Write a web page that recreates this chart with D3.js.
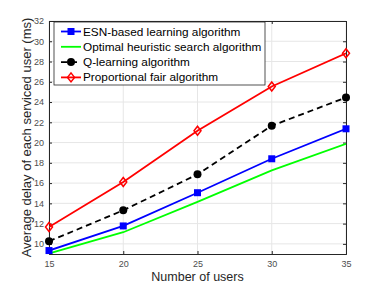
<!DOCTYPE html>
<meta charset="utf-8">
<html>
<head>
<style>
  body { margin: 0; background: #fff; }
  svg text { font-family: 'Liberation Sans', Arial, sans-serif; }
</style>
</head>
<body>
<div id="chart"></div>
<script src="https://cdn.jsdelivr.net/npm/d3@7"></script>
<script>
// chart values
var users = [15, 20, 25, 30, 35];
var esn = [9.34, 11.77, 15.05, 18.4, 21.36];
var optimal = [9.05, 11.15, 14.14, 17.25, 19.88];
var qlearn = [10.26, 13.31, 16.86, 21.66, 24.45];
var propfair = [11.67, 16.11, 21.16, 25.53, 28.82];
var yTicks = [10, 12, 14, 16, 18, 20, 22, 24, 26, 28, 30, 32];
var seriesNames = ["ESN-based learning algorithm", "Optimal heuristic search algorithm",
                   "Q-learning algorithm", "Proportional fair algorithm"];

var width = 382, height = 286;
var pLeft = 49, pRight = 346, pTop = 21, pBottom = 254;

var svg = d3.select("#chart").append("svg")
    .attr("width", width).attr("height", height);

var x = d3.scaleLinear().domain([15, 35]).range([pLeft, pRight]);
var y = d3.scaleLinear().domain([9, 32]).range([pBottom, pTop]);

// grid
svg.selectAll(".gx").data(users).enter().append("line")
    .attr("x1", function(d) { return x(d); }).attr("x2", function(d) { return x(d); })
    .attr("y1", pTop).attr("y2", pBottom)
    .style("stroke", "#e6e6e6").style("stroke-width", 1);
svg.selectAll(".gy").data(yTicks).enter().append("line")
    .attr("y1", function(d) { return y(d); }).attr("y2", function(d) { return y(d); })
    .attr("x1", pLeft).attr("x2", pRight)
    .style("stroke", "#e6e6e6").style("stroke-width", 1);

// axes (ticks inward, MATLAB style)
svg.append("g").attr("transform", "translate(0," + pBottom + ")")
    .call(d3.axisBottom(x).tickValues(users).tickSize(-3).tickPadding(7));
svg.append("g").attr("transform", "translate(" + pLeft + ",0)")
    .call(d3.axisLeft(y).tickValues(yTicks).tickSize(-3).tickPadding(5));
svg.append("g").attr("transform", "translate(0," + pTop + ")")
    .call(d3.axisTop(x).tickValues(users).tickSize(-3).tickFormat(""));
svg.append("g").attr("transform", "translate(" + pRight + ",0)")
    .call(d3.axisRight(y).tickValues(yTicks).tickSize(-3).tickFormat(""));
svg.selectAll(".domain").style("stroke", "#262626");
svg.selectAll(".tick line").style("stroke", "#262626");
svg.selectAll(".tick text").style("fill", "#4d4d4d").style("font-size", "9px");

// axis labels
svg.append("text").attr("x", (pLeft + pRight) / 2).attr("y", 281)
    .attr("text-anchor", "middle").style("font-size", "12.5px").style("fill", "#262626")
    .text("Number of users");
svg.append("text").attr("transform", "translate(31," + ((pTop + pBottom) / 2) + ") rotate(-90)")
    .attr("text-anchor", "middle").style("font-size", "13px").style("fill", "#262626")
    .text("Average delay of each serviced user (ms)");

var series = [
  { name: seriesNames[0], values: esn, color: "#0000ff", dash: null, marker: "square" },
  { name: seriesNames[1], values: optimal, color: "#00ff00", dash: null, marker: null },
  { name: seriesNames[2], values: qlearn, color: "#000000", dash: "6,4", marker: "circle" },
  { name: seriesNames[3], values: propfair, color: "#ff0000", dash: null, marker: "diamond" }
];

var line = d3.line()
    .x(function(d, i) { return x(users[i]); })
    .y(function(d) { return y(d); });

svg.append("clipPath").attr("id", "clip").append("rect")
    .attr("x", pLeft).attr("y", pTop).attr("width", pRight - pLeft).attr("height", pBottom - pTop);

function drawMarker(g, type, color, cx, cy) {
  if (type == "square") {
    g.append("rect").attr("x", cx - 3.5).attr("y", cy - 3.5).attr("width", 7).attr("height", 7)
      .style("fill", color);
  } else if (type == "circle") {
    g.append("circle").attr("cx", cx).attr("cy", cy).attr("r", 4).style("fill", color);
  } else if (type == "diamond") {
    g.append("path").attr("d", "M" + cx + "," + (cy - 4.5) + "L" + (cx + 3.5) + "," + cy +
      "L" + cx + "," + (cy + 4.5) + "L" + (cx - 3.5) + "," + cy + "Z")
      .style("fill", "none").style("stroke", color).style("stroke-width", 1.5);
  }
}

// draw order: proportional fair under, ESN on top
[3, 2, 1, 0].forEach(function(k) {
  var s = series[k];
  svg.append("path").datum(s.values)
    .attr("d", line)
    .attr("clip-path", "url(#clip)")
    .style("fill", "none").style("stroke", s.color).style("stroke-width", 1.8)
    .style("stroke-dasharray", s.dash);
  if (s.marker) {
    var g = svg.append("g");
    s.values.forEach(function(v, i) { drawMarker(g, s.marker, s.color, x(users[i]), y(v)); });
  }
});

// legend
var lg = svg.append("g");
lg.append("rect").attr("x", 54).attr("y", 22).attr("width", 211).attr("height", 63)
  .style("fill", "#fff").style("stroke", "#262626").style("stroke-width", 0.8);
series.forEach(function(s, i) {
  var ly = 31.5 + i * 15.3;
  lg.append("line").attr("x1", 61).attr("x2", 81).attr("y1", ly).attr("y2", ly)
    .style("stroke", s.color).style("stroke-width", 1.8).style("stroke-dasharray", s.dash);
  if (s.marker) drawMarker(lg, s.marker, s.color, 71, ly);
  lg.append("text").attr("x", 83).attr("y", ly + 4).style("font-size", "11.8px")
    .style("fill", "#000").text(s.name);
});
</script>
</body>
</html>
